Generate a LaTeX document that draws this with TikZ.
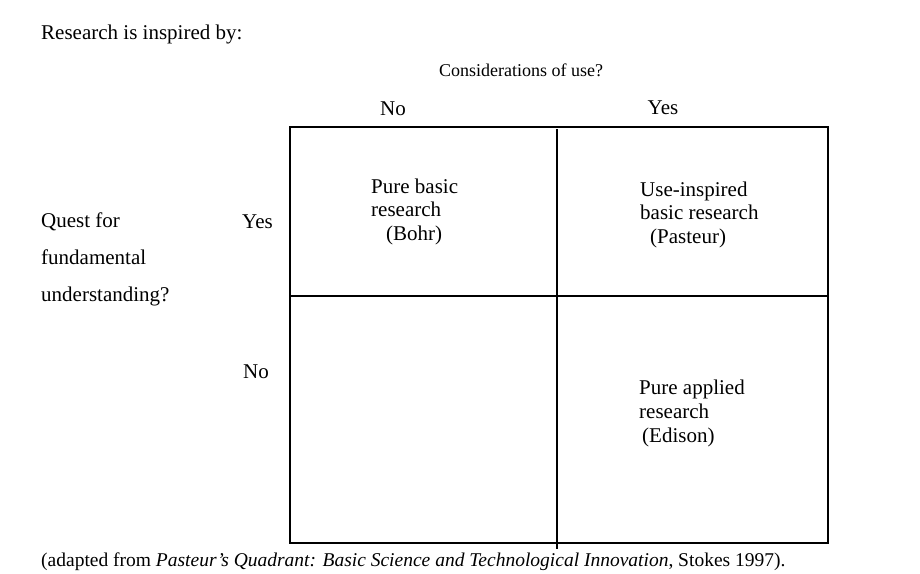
\documentclass[tikz,border=0pt]{standalone}
\usepackage{fontspec}
\setmainfont{Liberation Serif}
\tikzset{
  txt/.style={font=\fontsize{21}{23.5}\selectfont, inner sep=0pt},
  celltext/.style={txt, align=left, anchor=base west},
}
\begin{document}
\begin{tikzpicture}[x=1pt,y=-1pt]
\useasboundingbox (0,0) rectangle (920,573);
% quadrant frame
\draw [line width=2.2pt] (290,127) rectangle (828,543);
\draw [line width=1.6pt] (290,296) -- (828,296);
\draw [line width=1.6pt] (557,129) -- (557,549);
% headings
\node [txt, anchor=base west] (title) at (41,39) {Research is inspired by:};
\node [txt, font=\fontsize{18}{20}\selectfont, anchor=base] (usehead) at (521,76) {Considerations of use?};
\node [txt, anchor=base] (useno) at (393,115) {No};
\node [txt, anchor=base] (useyes) at (663,114) {Yes};
\node [celltext] (quest) at (41,301) {Quest for\\[13.5pt]fundamental\\[13.5pt]understanding?};
\node [txt, anchor=base west] (questyes) at (242,228) {Yes};
\node [txt, anchor=base west] (questno) at (243,378) {No};
% quadrant texts (base = last line)
\node [celltext] (bohr) at (371,240) {Pure basic\\research\\\hspace{15pt}(Bohr)};
\node [celltext] (pasteur) at (640,243) {Use-inspired\\basic research\\\hspace{10pt}(Pasteur)};
\node [celltext] (edison) at (639,442) {Pure applied\\[1pt]research\\\hspace{3pt}(Edison)};
% source
\node [txt, font=\fontsize{19.5}{22}\selectfont, anchor=base west] (source) at (41,566) {(adapted from \textit{Pasteur's Quadrant: Basic Science and Technological Innovation}, Stokes 1997).};
\end{tikzpicture}
\end{document}
